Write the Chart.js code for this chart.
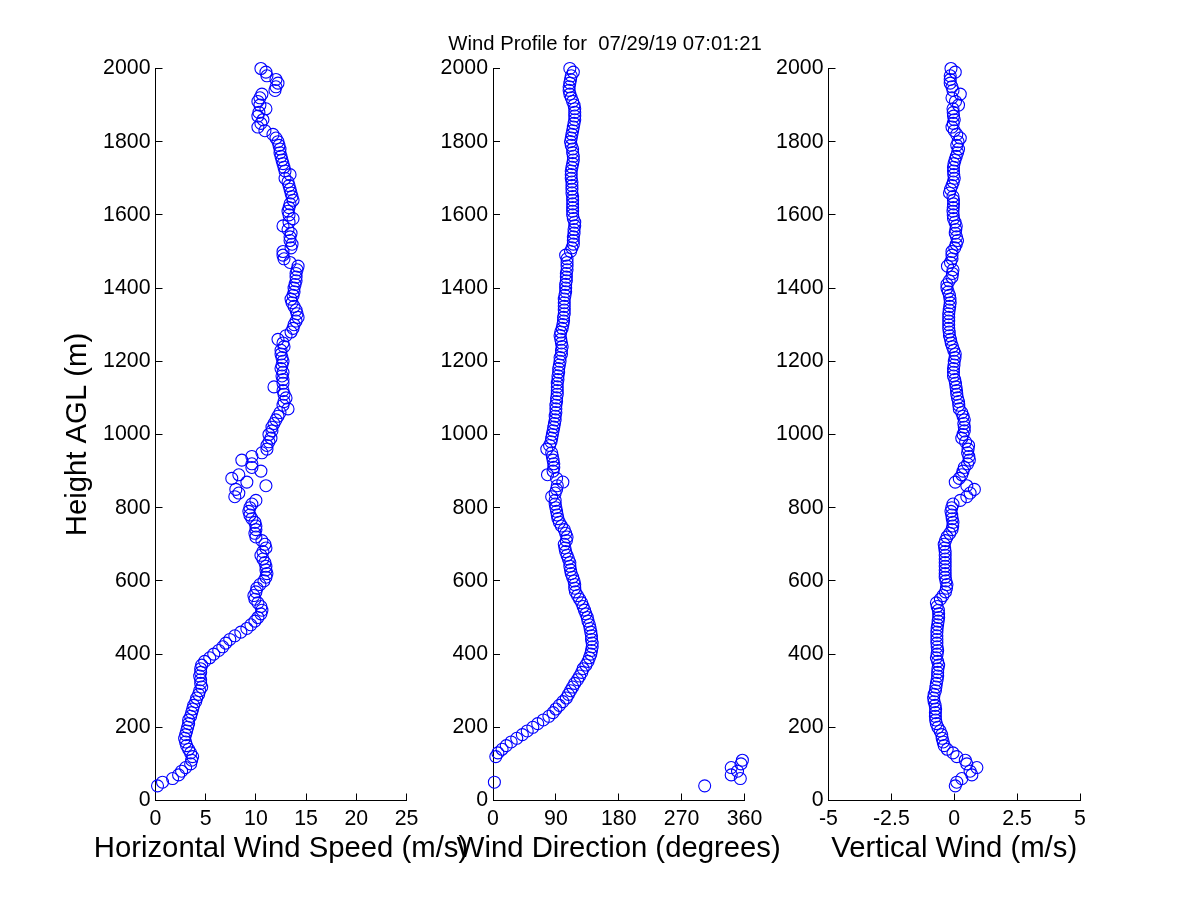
<!DOCTYPE html>
<html>
<head>
<meta charset="utf-8">
<script src="https://cdn.jsdelivr.net/npm/chart.js@4.4.1/dist/chart.umd.min.js"></script>
<style>
html,body{margin:0;padding:0;background:#fff;}
body{width:1200px;height:900px;position:relative;overflow:hidden;}
.box{position:absolute;top:0;height:900px;}
</style>
</head>
<body>
<div class="box" id="b1" style="left:0px;width:480px"><canvas id="c1"></canvas></div>
<div class="box" id="b2" style="left:413px;width:384px"><canvas id="c2"></canvas></div>
<div class="box" id="b3" style="left:748px;width:362px"><canvas id="c3"></canvas></div>
<script>
// Heights AGL (m)
const heights = [
  40, 50, 60, 70, 80, 90,
  100, 110, 120, 130, 140, 150, 160, 170, 180, 190,
  200, 210, 220, 230, 240, 250, 260, 270, 280, 290,
  300, 310, 320, 330, 340, 350, 360, 370, 380, 390,
  400, 410, 420, 430, 440, 450, 460, 470, 480, 490,
  500, 510, 520, 530, 540, 550, 560, 570, 580, 590,
  600, 610, 620, 630, 640, 650, 660, 670, 680, 690,
  700, 710, 720, 730, 740, 750, 760, 770, 780, 790,
  800, 810, 820, 830, 840, 850, 860, 870, 880, 890,
  900, 910, 920, 930, 940, 950, 960, 970, 980, 990,
  1000, 1010, 1020, 1030, 1040, 1050, 1060, 1070, 1080, 1090,
  1100, 1110, 1120, 1130, 1140, 1150, 1160, 1170, 1180, 1190,
  1200, 1210, 1220, 1230, 1240, 1250, 1260, 1270, 1280, 1290,
  1300, 1310, 1320, 1330, 1340, 1350, 1360, 1370, 1380, 1390,
  1400, 1410, 1420, 1430, 1440, 1450, 1460, 1470, 1480, 1490,
  1500, 1510, 1520, 1530, 1540, 1550, 1560, 1570, 1580, 1590,
  1600, 1610, 1620, 1630, 1640, 1650, 1660, 1670, 1680, 1690,
  1700, 1710, 1720, 1730, 1740, 1750, 1760, 1770, 1780, 1790,
  1800, 1810, 1820, 1830, 1840, 1850, 1860, 1870, 1880, 1890,
  1900, 1910, 1920, 1930, 1940, 1950, 1960, 1970, 1980, 1990,
  2000
];

// Horizontal wind speed (m/s)
const speed = [
  0.2, 0.7, 1.7, 2.3, 2.6, 3.0,
  3.5, 3.6, 3.7, 3.5, 3.3, 3.1, 3.0, 2.9, 3.0, 3.1,
  3.2, 3.3, 3.3, 3.5, 3.6, 3.7, 3.8, 4.0, 4.1, 4.3,
  4.4, 4.6, 4.5, 4.5, 4.4, 4.5, 4.5, 4.6, 4.9, 5.4,
  5.8, 6.3, 6.7, 7.0, 7.4, 7.9, 8.5, 9.1, 9.5, 9.9,
  10.2, 10.5, 10.6, 10.5, 10.2, 9.9, 9.8, 10.0, 10.1, 10.4,
  10.8, 11.0, 11.1, 11.0, 11.0, 10.9, 10.7, 10.5, 10.7, 11.0,
  10.9, 10.6, 10.0, 9.9, 10.0, 10.0, 9.9, 9.6, 9.4, 9.3,
  9.4, 9.6, 10.0, 7.9, 8.3, 8.0, 11.0, 9.1, 7.6, 8.3,
  10.5, 9.6, 9.6, 8.6, 9.6, 10.6, 11.1, 11.1, 11.3, 11.5,
  11.3, 11.6, 11.6, 11.8, 12.0, 12.2, 12.4, 13.2, 12.7, 12.8,
  13.0, 12.8, 12.7, 11.8, 12.7, 12.7, 12.6, 12.7, 12.5, 12.6,
  12.7, 12.6, 12.5, 12.5, 12.8, 12.7, 12.2, 13.0, 13.5, 13.7,
  13.8, 14.0, 14.2, 14.1, 14.0, 13.8, 13.6, 13.5, 13.7, 13.8,
  13.8, 13.9, 14.0, 14.0, 14.0, 14.1, 14.2, 13.4, 12.8, 12.7,
  12.7, 13.5, 13.6, 13.4, 13.4, 13.5, 13.2, 12.7, 13.3, 13.7,
  13.3, 13.2, 13.3, 13.4, 13.7, 13.6, 13.5, 13.4, 13.3, 13.2,
  12.9, 13.4, 12.9, 12.8, 12.7, 12.6, 12.5, 12.4, 12.4, 12.3,
  12.2, 12.0, 11.7, 10.9, 10.2, 10.5, 10.7, 10.2, 10.3, 11.0,
  10.4, 10.2, 10.4, 10.6, 11.9, 12.0, 12.2, 12.0, 11.1, 11.0,
  10.5
];

// Wind direction (degrees)
const direction = [
  303, 2, 354, 341, 350, 341,
  355, 357, 4, 7, 13, 19, 26, 34, 42, 49,
  57, 64, 72, 80, 86, 90, 95, 100, 105, 108,
  111, 114, 117, 121, 124, 127, 129, 133, 136, 138,
  140, 141, 142, 142, 141, 141, 140, 139, 138, 136,
  135, 133, 131, 129, 127, 124, 121, 118, 117, 117,
  116, 114, 112, 111, 110, 110, 108, 106, 104, 103,
  102, 105, 106, 104, 102, 98, 95, 93, 92, 91,
  90, 89, 89, 84, 89, 91, 92, 100, 91, 78,
  86, 87, 87, 86, 85, 84, 77, 81, 83, 84,
  85, 86, 87, 88, 89, 89, 90, 90, 90, 91,
  91, 92, 92, 92, 92, 93, 93, 94, 94, 95,
  96, 96, 98, 98, 99, 98, 97, 96, 97, 99,
  100, 101, 101, 102, 102, 102, 102, 102, 103, 104,
  104, 104, 105, 105, 105, 106, 106, 106, 106, 104,
  111, 113, 115, 115, 115, 116, 116, 117, 117, 115,
  114, 114, 114, 114, 114, 114, 113, 113, 113, 113,
  112, 112, 112, 113, 114, 115, 115, 114, 114, 112,
  111, 112, 113, 114, 115, 116, 117, 117, 117, 117,
  116, 114, 112, 110, 109, 109, 110, 111, 112, 115,
  110
];

// Vertical wind (m/s)
const vertical = [
  0.04, 0.1, 0.3, 0.7, 0.63, 0.9,
  0.5, 0.44, 0.1, -0.05, -0.28, -0.4, -0.44, -0.48, -0.5, -0.56,
  -0.65, -0.71, -0.74, -0.75, -0.75, -0.74, -0.76, -0.8, -0.82, -0.8,
  -0.75, -0.73, -0.71, -0.68, -0.66, -0.66, -0.65, -0.62, -0.66, -0.71,
  -0.68, -0.66, -0.68, -0.69, -0.69, -0.69, -0.69, -0.68, -0.66, -0.64,
  -0.62, -0.62, -0.63, -0.68, -0.71, -0.55, -0.45, -0.35, -0.31, -0.29,
  -0.33, -0.36, -0.36, -0.36, -0.36, -0.36, -0.36, -0.36, -0.36, -0.38,
  -0.4, -0.35, -0.29, -0.18, -0.09, -0.06, -0.05, -0.08, -0.1, -0.13,
  -0.1, -0.05, 0.24, 0.5, 0.63, 0.8, 0.5, 0.04, 0.2, 0.3,
  0.35, 0.4, 0.53, 0.6, 0.58, 0.53, 0.55, 0.57, 0.45, 0.3,
  0.35, 0.4, 0.4, 0.38, 0.4, 0.35, 0.3, 0.2, 0.18, 0.17,
  0.13, 0.1, 0.09, 0.07, 0.05, 0.02, -0.03, -0.03, -0.03, -0.01,
  0, 0.03, 0.04, -0.02, -0.07, -0.12, -0.15, -0.19, -0.2, -0.22,
  -0.22, -0.22, -0.22, -0.22, -0.2, -0.18, -0.16, -0.17, -0.19, -0.24,
  -0.29, -0.29, -0.2, -0.09, -0.07, -0.05, -0.27, -0.15, -0.09, -0.09,
  -0.09, 0.02, 0.08, 0.13, 0.09, 0.04, 0.06, 0.08, 0.03, -0.03,
  -0.04, -0.05, -0.04, -0.03, -0.03, -0.05, -0.19, -0.15, -0.09, -0.04,
  0, -0.02, -0.03, -0.03, -0.01, 0.03, 0.08, 0.13, 0.17, 0.1,
  0.15, 0.24, 0.1, 0, -0.09, -0.04, 0, -0.03, -0.04, -0.05,
  0.17, 0.05, -0.09, 0.24, -0.05, -0.09, -0.16, -0.16, -0.16, 0.04,
  -0.13
];

const titleText = 'Wind Profile for  07/29/19 07:01:21';
const yTitleText = 'Height AGL (m)';
const xTitles = ['Horizontal Wind Speed (m/s)', 'Wind Direction (degrees)', 'Vertical Wind (m/s)'];
const xRanges = [[0, 25, 5], [0, 360, 90], [-5, 5, 2.5]];
const yRange = [0, 2000, 200];

const FONT = '"Liberation Sans", Arial, Helvetica, sans-serif';
Chart.defaults.font.family = FONT;
Chart.defaults.color = '#000';

// Axis title under the x axis, drawn unsqueezed (Chart.js would squeeze it to the axis width)
const xTitlePlugin = {
  id: 'xTitle',
  afterDraw(chart, args, opts) {
    const { ctx, chartArea } = chart;
    ctx.save();
    ctx.font = opts.size + 'px ' + FONT;
    ctx.fillStyle = '#000';
    ctx.textAlign = 'center';
    ctx.textBaseline = 'middle';
    ctx.fillText(opts.text, (chartArea.left + chartArea.right) / 2, opts.y);
    ctx.restore();
  }
};

function makePanel(id, xs, idx, cfg) {
  const pts = heights.map((h, i) => ({ x: xs[i], y: h }));
  const [xmin, xmax, xstep] = xRanges[idx];
  const scales = {
    x: {
      type: 'linear', position: 'bottom', min: xmin, max: xmax,
      ticks: { stepSize: xstep, autoSkip: false, maxRotation: 0, padding: 12.7,
               font: { size: 21.3 }, color: '#000', callback: v => String(v) },
      grid: { drawOnChartArea: false, drawTicks: true, tickLength: -7, color: '#000', lineWidth: 1 },
      border: { display: true, color: '#000', width: 1 },
      title: { display: false },
      afterFit: s => { s.height = 99.5; }
    },
    y: {
      type: 'linear', position: 'left', min: yRange[0], max: yRange[1],
      ticks: { stepSize: yRange[2], autoSkip: false, padding: 12,
               font: { size: 21.3 }, color: '#000', callback: v => String(v) },
      grid: { drawOnChartArea: false, drawTicks: true, tickLength: -7, color: '#000', lineWidth: 1 },
      border: { display: true, color: '#000', width: 1 },
      title: cfg.yTitle || { display: false },
      afterFit: s => { s.width = cfg.yWidth; }
    }
  };
  if (cfg.rightSpace) {
    // empty spacer on the right so the figure title centres where the reference has it
    scales.spacer = {
      type: 'linear', position: 'right', display: true,
      ticks: { display: false }, grid: { display: false }, border: { display: false },
      afterFit: s => { s.width = cfg.rightSpace; }
    };
  }
  return new Chart(document.getElementById(id), {
    type: 'scatter',
    plugins: [xTitlePlugin],
    data: {
      datasets: [{
        data: pts,
        pointStyle: 'circle',
        pointRadius: 6,
        pointHoverRadius: 6,
        pointBorderWidth: 1.1,
        pointBorderColor: '#0000ff',
        pointBackgroundColor: 'rgba(0,0,0,0)',
        borderColor: '#0000ff',
        backgroundColor: 'rgba(0,0,0,0)',
        clip: false
      }]
    },
    options: {
      responsive: true,
      maintainAspectRatio: false,
      animation: false,
      devicePixelRatio: 1,
      events: [],
      layout: { padding: { left: 0, right: cfg.padRight, top: cfg.padTop, bottom: 0 } },
      plugins: {
        legend: { display: false },
        tooltip: { enabled: false },
        title: cfg.title || { display: false },
        xTitle: { text: xTitles[idx], size: 29.3, y: 849 }
      },
      scales: scales
    }
  });
}

makePanel('c1', speed, 0, {
  padRight: 73.5, padTop: 68.5, yWidth: 155.5,
  yTitle: { display: true, text: yTitleText, color: '#000', font: { size: 29.3 }, padding: { top: 60.4, bottom: 0 } }
});
makePanel('c2', direction, 1, {
  padRight: 0, padTop: 0, yWidth: 80, rightSpace: 52.5,
  title: { display: true, text: titleText, color: '#000', font: { size: 20.3, weight: 'normal' },
           padding: { top: 32.3, bottom: 11.8 } }
});
makePanel('c3', vertical, 2, {
  padRight: 30, padTop: 68.5, yWidth: 80.5
});
</script>
</body>
</html>
